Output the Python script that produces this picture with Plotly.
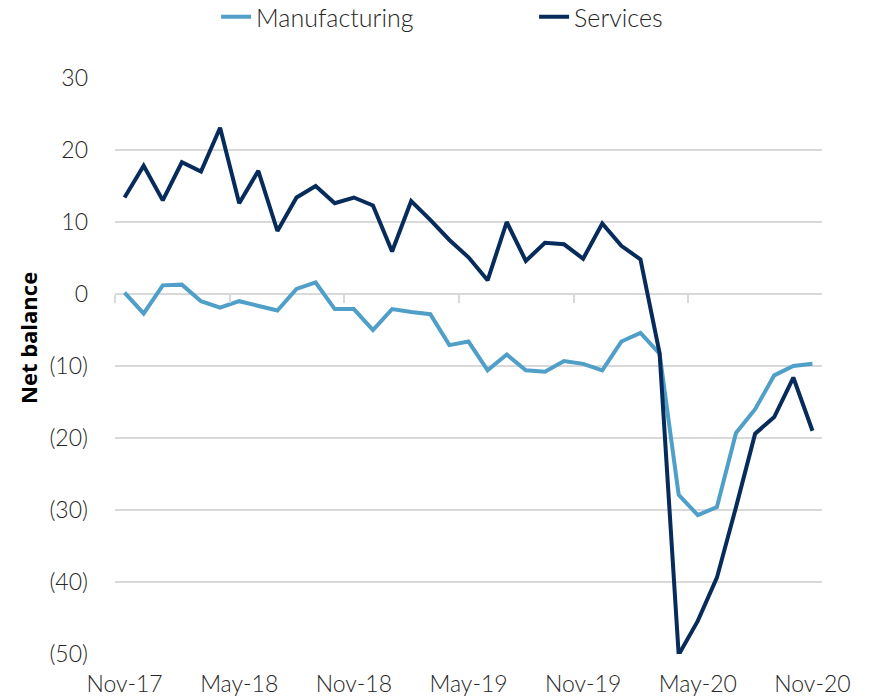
import plotly.graph_objects as go

months = ["Nov-17","Dec-17","Jan-18","Feb-18","Mar-18","Apr-18","May-18","Jun-18","Jul-18","Aug-18","Sep-18","Oct-18",
          "Nov-18","Dec-18","Jan-19","Feb-19","Mar-19","Apr-19","May-19","Jun-19","Jul-19","Aug-19","Sep-19","Oct-19",
          "Nov-19","Dec-19","Jan-20","Feb-20","Mar-20","Apr-20","May-20","Jun-20","Jul-20","Aug-20","Sep-20","Oct-20","Nov-20"]

manufacturing = [0.2, -2.7, 1.2, 1.3, -1.0, -1.9, -1.0, -1.6, -2.3, 0.7, 1.6, -2.1,
                 -2.1, -5.0, -2.1, -2.5, -2.8, -7.1, -6.6, -10.6, -8.4, -10.6, -10.8, -9.3,
                 -9.7, -10.6, -6.6, -5.4, -8.3, -27.9, -30.7, -29.6, -19.3, -16.0, -11.3, -10.0, -9.7]

services = [13.4, 17.8, 13.0, 18.3, 17.0, 23.1, 12.6, 17.1, 8.75, 13.4, 15.0, 12.6,
            13.4, 12.3, 5.9, 12.9, 10.3, 7.5, 5.1, 1.9, 10.0, 4.6, 7.1, 6.9,
            4.9, 9.8, 6.7, 4.8, -8.2, -50.1, -45.4, -39.4, -29.6, -19.4, -17.1, -11.6, -19.0]

x_tick_labels = ["Nov-17", "May-18", "Nov-18", "May-19", "Nov-19", "May-20", "Nov-20"]
y_tick_values = [30, 20, 10, 0, -10, -20, -30, -40, -50]
y_tick_labels = ["30", "20", "10", "0", "(10)", "(20)", "(30)", "(40)", "(50)"]

idx = list(range(len(months)))
label_idx = [months.index(m) for m in x_tick_labels]
sep_ticks = [i - 0.5 for i in label_idx[:-1]]

FONT = "Lato"
TXT = "#262626"
TF = dict(family=FONT, size=23, color=TXT, weight=300)
LF = dict(family=FONT, size=25, color=TXT, weight=300)

fig = go.Figure()
fig.add_trace(go.Scatter(x=idx, y=manufacturing, mode="lines", name="Manufacturing",
                         line=dict(color="#4F9FC8", width=4)))
fig.add_trace(go.Scatter(x=idx, y=services, mode="lines", name="Services",
                         line=dict(color="#072B5A", width=4)))
# invisible trace for tick-mark axis
fig.add_trace(go.Scatter(x=[idx[0], idx[-1]], y=[0, 0], mode="lines", xaxis="x2",
                         line=dict(width=0), showlegend=False, hoverinfo="skip"))

fig.update_layout(
    width=869, height=698,
    margin=dict(l=115, r=47, t=78, b=44, autoexpand=False),
    paper_bgcolor="white", plot_bgcolor="white",
    font=TF,
    legend=dict(orientation="h", x=0.143, xanchor="left", y=1 - 17 / 698, yanchor="middle",
                yref="container", font=LF, traceorder="normal",
                entrywidth=273, entrywidthmode="pixels"),
    xaxis=dict(range=[-0.5, 36.5], tickmode="array", tickvals=label_idx, ticktext=x_tick_labels,
               showgrid=False, zeroline=False, showline=False, ticks="", automargin=False,
               ticklabelstandoff=14, tickfont=TF),
    xaxis2=dict(range=[-0.5, 36.5], overlaying="x", anchor="free", position=0.625, side="bottom",
                tickmode="array", tickvals=sep_ticks, showticklabels=False, ticks="outside",
                ticklen=8, tickwidth=2, tickcolor="#D9D9D9", showgrid=False, zeroline=False,
                showline=False, automargin=False),
    yaxis=dict(range=[-50, 30], tickmode="array", tickvals=y_tick_values, ticktext=y_tick_labels,
               showgrid=True, gridcolor="#D9D9D9", gridwidth=2, zeroline=False, showline=False,
               ticks="", ticklabelstandoff=26, tickfont=TF, automargin=False),
    annotations=[dict(text="<b>Net balance</b>", textangle=-90, xref="paper", yref="paper",
                      x=(28 - 115) / 707, y=(654 - 338) / 576, xanchor="center", yanchor="middle",
                      showarrow=False, font=dict(family="Open Sans", size=22, color="#000000"))],
)
fig.write_html("out.html")
